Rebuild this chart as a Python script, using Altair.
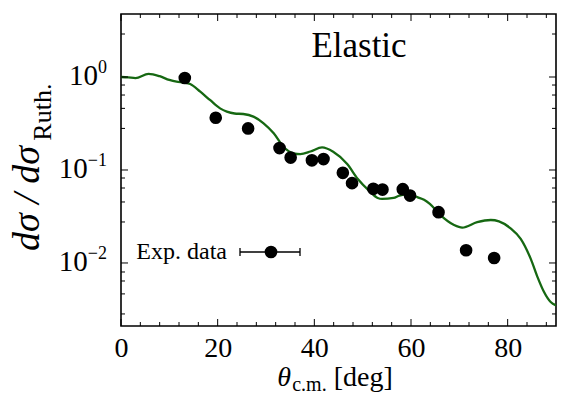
import altair as alt
import pandas as pd

# ---------------- data ----------------
exp_theta = [13.2, 19.6, 26.3, 32.8, 35.1, 39.5, 41.9, 45.9, 47.8, 52.2, 54.1, 58.3, 59.8, 65.7, 71.4, 77.2]
exp_ratio = [0.975, 0.365, 0.28, 0.172, 0.136, 0.127, 0.131, 0.0932, 0.0722, 0.0627, 0.0616, 0.0622,
             0.0531, 0.0352, 0.0137, 0.0113]

curve_theta = [0, 1.5, 3, 5.7, 8, 10, 11.5, 13, 14.3, 16.4, 18.4, 20.5, 21.9, 23.5, 25.3, 27.4,
               29.5, 31.6, 33.6, 35.7, 37.1, 39.2, 41.6, 43.9, 46.8, 49.0, 51.3, 53.1, 54.0, 56.4,
               57.6, 59.9, 61.3, 62.7, 63.9, 66.1, 68.9, 70.6, 73.7, 76.5, 78.2, 80.6, 82.7, 84.8,
               86.2, 87.5, 88.9, 90]
curve_ratio = [1.0, 0.99, 0.975, 1.08, 1.02, 0.93, 0.89, 0.87, 0.84, 0.695, 0.566, 0.46, 0.424, 0.405,
               0.40, 0.375, 0.318, 0.248, 0.178, 0.151, 0.148, 0.158, 0.175, 0.157, 0.116, 0.080,
               0.060, 0.050, 0.0488, 0.050, 0.053, 0.055, 0.051, 0.0479, 0.0432, 0.0327, 0.0256,
               0.024, 0.0275, 0.029, 0.028, 0.0236, 0.0182, 0.011, 0.0070, 0.0049, 0.0038, 0.0035]

x_major = [0, 20, 40, 60, 80]
x_minor = [4, 8, 12, 16, 24, 28, 32, 36, 44, 48, 52, 56, 64, 68, 72, 76, 84, 88]
y_major = [1.0, 0.1, 0.01]
y_major_exp = ["0", "\u22121", "\u22122"]
y_minor = [2.9, 0.82, 0.64, 0.46, 0.28, 0.082, 0.064, 0.0453, 0.0276, 0.0080, 0.0064, 0.00465, 0.00283]

legend_label = "Exp. data"
panel_label = "Elastic"

# ---------------- styling ----------------
W, H = 435, 312
SERIF = "Liberation Serif"
INK = "black"
GREEN = "#166812"

xs = alt.Scale(domain=[0, 90], nice=False, zero=False)
ys = alt.Scale(type="log", domain=[0.0021, 4.76], nice=False)

# approximate Times advance widths (em)
CW = {"0": .5, "1": .5, "2": .5, "\u2212": .564, ".": .25, " ": .25, "[": .333, "]": .333,
      "d": .5, "e": .444, "g": .5, "c": .444, "m": .778, "R": .667, "u": .5, "t": .278,
      "h": .5, "\u03b8": .5, "\u03c3": .55, "/": .278}


def tw(s, size):
    return sum(CW.get(ch, .5) for ch in s) * size


curve_df = pd.DataFrame({"theta": curve_theta, "ratio": curve_ratio})
exp_df = pd.DataFrame({"theta": exp_theta, "ratio": exp_ratio})
xmaj_df = pd.DataFrame({"theta": x_major})
xmin_df = pd.DataFrame({"theta": x_minor})
ymaj_df = pd.DataFrame({"ratio": y_major})
ymin_df = pd.DataFrame({"ratio": y_minor})

layers = []

# curve
layers.append(
    alt.Chart(curve_df).mark_line(color=GREEN, strokeWidth=2.3, interpolate="monotone", clip=True).encode(
        x=alt.X("theta:Q", scale=xs,
                axis=alt.Axis(values=x_major, title=None, grid=False, ticks=False, domain=False,
                              labelFont=SERIF, labelFontSize=28, labelColor=INK, labelPadding=8,
                              labelFlush=False, format="d")),
        y=alt.Y("ratio:Q", scale=ys, axis=None),
    )
)

# experimental points
layers.append(
    alt.Chart(exp_df).mark_circle(size=160, color="black", opacity=1).encode(
        x=alt.X("theta:Q", scale=xs), y=alt.Y("ratio:Q", scale=ys)
    )
)

# frame ticks (inward)
for df, L in ((xmaj_df, 7), (xmin_df, 4)):
    layers.append(alt.Chart(df).mark_rule(color="black", strokeWidth=1).encode(
        x=alt.X("theta:Q", scale=xs), y=alt.value(H), y2=alt.value(H - L)))
    layers.append(alt.Chart(df).mark_rule(color="black", strokeWidth=1).encode(
        x=alt.X("theta:Q", scale=xs), y=alt.value(0), y2=alt.value(L)))
for df, L in ((ymaj_df, 7), (ymin_df, 4)):
    layers.append(alt.Chart(df).mark_rule(color="black", strokeWidth=1).encode(
        y=alt.Y("ratio:Q", scale=ys), x=alt.value(0), x2=alt.value(L)))
    layers.append(alt.Chart(df).mark_rule(color="black", strokeWidth=1).encode(
        y=alt.Y("ratio:Q", scale=ys), x=alt.value(W), x2=alt.value(W - L)))

# y tick labels: "10" + superscript exponent
RIGHT = -14
for v, e in zip(y_major, y_major_exp):
    d = pd.DataFrame({"ratio": [v], "base": ["10"], "exp": [e]})
    ew = tw(e, 18)
    layers.append(alt.Chart(d).mark_text(font=SERIF, fontSize=29, color=INK, align="right",
                                         baseline="middle", dy=-1).encode(
        y=alt.Y("ratio:Q", scale=ys), x=alt.value(RIGHT - ew), text="base:N"))
    layers.append(alt.Chart(d).mark_text(font=SERIF, fontSize=18, color=INK, align="right",
                                         baseline="middle", dy=-9).encode(
        y=alt.Y("ratio:Q", scale=ys), x=alt.value(RIGHT), text="exp:N"))

# x title: theta_{c.m.} [deg]
t1, t2, t3 = "\u03b8", "c.m.", "[deg]"
S1, S2 = 28, 20
w1, w2, w3 = tw(t1, S1), tw(t2, S2), tw(t3, S1)
gap = 7
x0 = W / 2 - 4 - (w1 + w2 + gap + w3) / 2
XB = 372
xt = pd.DataFrame({"a": [t1], "b": [t2], "c": [t3]})
layers.append(alt.Chart(xt).mark_text(font=SERIF, fontSize=S1, fontStyle="italic", color=INK,
                                      align="left", baseline="alphabetic").encode(
    x=alt.value(x0), y=alt.value(XB), text="a:N"))
layers.append(alt.Chart(xt).mark_text(font=SERIF, fontSize=S2, color=INK,
                                      align="left", baseline="alphabetic").encode(
    x=alt.value(x0 + w1 + 1), y=alt.value(XB + 5), text="b:N"))
layers.append(alt.Chart(xt).mark_text(font=SERIF, fontSize=S1, color=INK,
                                      align="left", baseline="alphabetic").encode(
    x=alt.value(x0 + w1 + 1 + w2 + gap), y=alt.value(XB), text="c:N"))

# y title: dσ / dσ_{Ruth.}
m1, m2 = "d\u03c3 / d\u03c3", "Ruth."
MS, SS = 38, 26
mw = tw(m1, MS)
yt = pd.DataFrame({"a": [m1], "b": [m2]})
YB = 237
layers.append(alt.Chart(yt).mark_text(font=SERIF, fontSize=MS, fontStyle="italic", color=INK,
                                      align="left", baseline="alphabetic", angle=270).encode(
    x=alt.value(-82), y=alt.value(YB), text="a:N"))
layers.append(alt.Chart(yt).mark_text(font=SERIF, fontSize=SS, color=INK,
                                      align="left", baseline="alphabetic", angle=270).encode(
    x=alt.value(-70), y=alt.value(YB - mw - 1), text="b:N"))

# panel label
pl = pd.DataFrame({"t": [panel_label]})
layers.append(alt.Chart(pl).mark_text(font=SERIF, fontSize=35, color=INK, align="center",
                                      baseline="alphabetic").encode(
    x=alt.value(238), y=alt.value(43), text="t:N"))

# legend
lg = pd.DataFrame({"t": [legend_label]})
LY = 238
layers.append(alt.Chart(lg).mark_text(font=SERIF, fontSize=24, color=INK, align="right",
                                      baseline="middle").encode(
    x=alt.value(106), y=alt.value(LY), text="t:N"))
layers.append(alt.Chart(lg).mark_rule(color="black", strokeWidth=1.3).encode(
    x=alt.value(119), x2=alt.value(179), y=alt.value(LY)))
layers.append(alt.Chart(lg).mark_rule(color="black", strokeWidth=1.3).encode(
    x=alt.value(119), y=alt.value(LY - 4), y2=alt.value(LY + 4)))
layers.append(alt.Chart(lg).mark_rule(color="black", strokeWidth=1.3).encode(
    x=alt.value(179), y=alt.value(LY - 4), y2=alt.value(LY + 4)))
layers.append(alt.Chart(lg).mark_circle(size=160, color="black", opacity=1).encode(
    x=alt.value(150), y=alt.value(LY)))

chart = alt.layer(*layers).properties(
    width=W, height=H,
    autosize=alt.AutoSizeParams(type="none"),
    padding={"left": 121, "top": 14, "right": 8, "bottom": 68},
    background="white",
).configure_view(stroke="black", strokeWidth=1.6)

chart.save("out.html", embed_options={"renderer": "svg", "actions": False})
